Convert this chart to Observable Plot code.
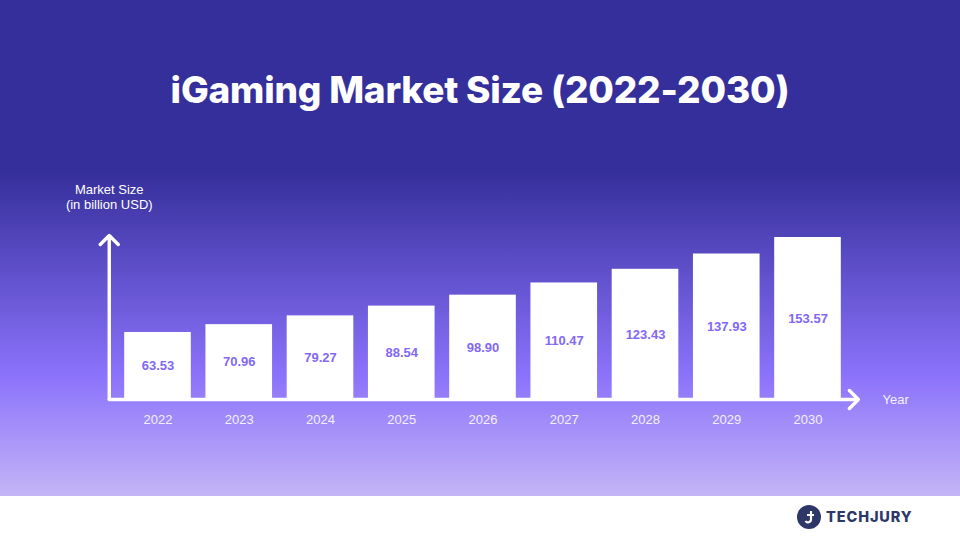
<!DOCTYPE html>
<html>
<head>
<meta charset="utf-8">
<script src="https://cdn.jsdelivr.net/npm/d3@7"></script>
<script src="https://cdn.jsdelivr.net/npm/@observablehq/plot@0.6"></script>
<style>
html,body{margin:0;padding:0;width:960px;height:540px;overflow:hidden;background:#fff}
#panel{width:960px;height:496px;background:linear-gradient(180deg,#352f9b 0,#352f9b 172px,#8b72fb 375px,#c3b5f6 496px)}
#title{height:170px;box-sizing:border-box;padding-top:62px;margin:0;text-align:center;color:#fff;font:800 37px/56px Inter,sans-serif;letter-spacing:-.2px}
#chart svg{display:block}
#footer{position:relative;height:44px;background:#fff}
#logo{position:absolute;left:797px;top:9px;display:flex;align-items:center;gap:5px;color:#2d3768;font:800 14.5px/24px Inter,sans-serif;letter-spacing:.9px}
</style>
</head>
<body>
<div id="panel">
  <h1 id="title">iGaming Market Size (2022-2030)</h1>
  <div id="chart"></div>
</div>
<div id="footer">
  <div id="logo">
    <svg width="24" height="24" viewBox="0 0 24 24"><circle cx="12" cy="12" r="12" fill="#2d3768"/><path d="M14 6v8.5a3 3 0 0 1-5.5 1.5M10 10h7" fill="none" stroke="#fff" stroke-width="2.2"/></svg>
    <span>TECHJURY</span>
  </div>
</div>
<script>
const years = [2022, 2023, 2024, 2025, 2026, 2027, 2028, 2029, 2030];
const marketSize = [63.53, 70.96, 79.27, 88.54, 98.90, 110.47, 123.43, 137.93, 153.57];
const yAxisTitle = "Market Size\n(in billion USD)";
const xAxisTitle = "Year";

const rows = years.map((year, i) => ({year, value: marketSize[i]}));
const barHalf = 0.41;
const axisStartX = 2021.4, axisEndX = 2030.62, axisEndY = 155.5;

const chart = Plot.plot({
  width: 960,
  height: 326,
  margin: 0,
  style: {background: "transparent", fontFamily: "'Liberation Sans', Arial, sans-serif"},
  x: {type: "linear", domain: [2022, 2030], range: [157.5, 807.5], axis: null},
  y: {domain: [0, 153.57], range: [229, 67], axis: null},
  marks: [
    Plot.rectY(rows, {x1: d => d.year - barHalf, x2: d => d.year + barHalf, y1: 0, y2: "value", fill: "#fff"}),
    Plot.arrow([0], {x1: axisStartX, y1: 0, x2: axisEndX, y2: 0, stroke: "#fff", strokeWidth: 3.4, bend: 0, headLength: 5.6, headAngle: 90, strokeLinecap: "round"}),
    Plot.arrow([0], {x1: axisStartX, y1: 0, x2: axisStartX, y2: axisEndY, stroke: "#fff", strokeWidth: 3.4, bend: 0, headLength: 5.6, headAngle: 90, strokeLinecap: "round"}),
    Plot.text(rows, {x: "year", y: d => d.value / 2, text: d => d.value.toFixed(2), fill: "#8268f5", fontSize: 13, fontWeight: 700}),
    Plot.axisX({ticks: years, tickFormat: "d", tickSize: 0, tickPadding: 0, anchor: "bottom", y: 0, dy: 15, fontSize: 13, color: "#f3f0ff", label: null}),
    Plot.text([yAxisTitle], {x: 2021.4, y: 192.5, text: d => d, fill: "#fff", fontSize: 13, lineHeight: 1.2}),
    Plot.text([xAxisTitle], {x: 2031.08, y: 0, text: d => d, fill: "#f3f0ff", fontSize: 13})
  ]
});
document.getElementById("chart").appendChild(chart);
</script>
</body>
</html>
